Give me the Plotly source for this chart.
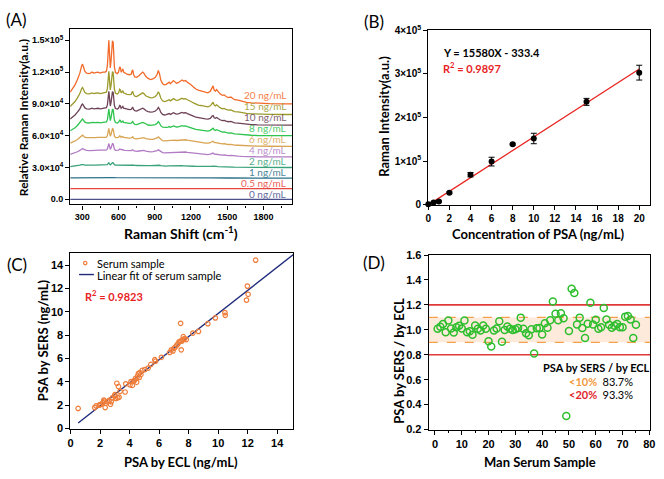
import plotly.graph_objects as go

# ---------------- Panel A data: SERS spectra ----------------
wavenumber = [200, 220, 240, 260, 280, 295, 302, 310, 320, 335, 360, 380, 395, 410, 430, 450, 470, 490,
              500, 508, 514, 520, 526, 532, 538, 544, 550, 556, 560, 566, 575, 590, 600, 610, 616, 622,
              630, 636, 642, 655, 670, 690, 705, 712, 718, 724, 735, 750, 770, 790, 800, 810, 825, 845,
              865, 885, 905, 920, 930, 940, 950, 965, 980, 995, 1010, 1020, 1030, 1045, 1055, 1065, 1080,
              1095, 1110, 1125, 1140, 1155, 1170, 1185, 1200, 1220, 1240, 1260, 1280, 1300, 1320, 1340,
              1360, 1375, 1383, 1392, 1402, 1412, 1422, 1440, 1460, 1475, 1490, 1510, 1530, 1545, 1560,
              1590, 1620, 1660, 1700, 1750, 1850, 1950, 2040]
# 20 ng/mL spectrum, intensity above its baseline (x10^3 a.u.)
profile_20 = [11, 14, 18, 23, 29, 36, 37.5, 35, 31, 29, 28.5, 30, 29, 29.5, 30, 29, 30, 30,
              31, 36, 48, 60, 47, 34, 40, 52, 59.5, 58, 45, 35, 29.5, 28.5, 30, 35, 34, 30,
              31.5, 33, 30, 29, 28, 27.5, 28, 31, 32, 28, 25.5, 25, 26.5, 29, 30, 29, 26, 24,
              23, 23.5, 25, 28, 31.5, 28, 22.5, 19, 18, 18.5, 19.5, 20.5, 19, 21.5, 22, 21, 19.5,
              20, 21.5, 22.5, 21.5, 22, 20.5, 19.5, 18, 16, 14, 13, 12.5, 12, 11, 10.5,
              12, 16, 17, 13, 12, 13.5, 12, 9.5, 8, 8.5, 7, 6, 6.5, 5, 4,
              3.5, 2.5, 1.5, 1, 0.5, 0.2, 0, 0]
spectra_labels = ["20 ng/mL", "15 ng/mL", "10 ng/mL", "8 ng/mL", "6 ng/mL",
                  "4 ng/mL", "2 ng/mL", "1 ng/mL", "0.5 ng/mL", "0 ng/mL"]
baselines_k = [90, 80, 70, 60, 50, 40, 30, 20, 10, 0]
relative_scale = [1.0, 0.68, 0.53, 0.42, 0.28, 0.21, 0.075, 0.015, 0.003, 0.0]
spectra_colors = ["#F26B2A", "#9C9A2C", "#6E4257", "#2EC44F", "#D9A453",
                  "#B27CC4", "#3AA27A", "#2C7187", "#E8453C", "#4B4F8C"]

# ---------------- Panel B data: calibration ----------------
conc_b = [0, 0.5, 1, 2, 4, 6, 8, 10, 15, 20]
intensity_b = [1500, 5200, 7400, 27500, 69000, 99000, 139000, 152000, 236000, 303000]
error_b = [500, 1000, 1500, 2000, 5000, 10000, 2000, 12000, 8000, 17000]
fit_slope_b = 15580
fit_intercept_b = -333.4
fit_x_b = [0, 20]

# ---------------- Panel C data: SERS vs ECL ----------------
ecl_c = [0.52, 1.64, 1.73, 1.95, 2.08, 2.2, 2.26, 2.35, 2.4, 2.53, 2.62, 2.71, 2.76, 2.84, 2.98,
         3.07, 3.14, 3.2, 3.25, 3.29, 3.36, 3.7, 3.74, 4.03, 4.1, 4.19, 4.32, 4.41, 4.48, 4.55,
         4.6, 4.66, 4.7, 4.77, 4.86, 5.04, 5.26, 5.44, 5.71, 5.76, 6.16, 6.72, 6.83, 6.94, 7.01,
         7.1, 7.21, 7.28, 7.35, 7.44, 7.46, 7.5, 7.55, 7.62, 7.64, 7.73, 7.84, 8.29, 8.67, 9.3,
         9.81, 10.46, 10.48, 11.92, 11.98, 12.03, 12.54, 2.0, 2.3, 3.0, 4.25]
sers_c = [1.72, 1.8, 1.94, 2.0, 2.08, 2.22, 2.44, 1.8, 2.16, 2.3, 2.41, 2.08, 2.3, 2.63, 2.77,
          2.58, 3.88, 2.63, 3.6, 2.69, 3.19, 3.13, 3.83, 3.74, 4.02, 3.69, 4.1, 4.3, 3.96, 4.49,
          4.71, 4.38, 4.8, 4.63, 4.99, 5.05, 5.18, 5.49, 5.9, 5.77, 6.1, 6.52, 6.74, 6.65, 6.88,
          6.99, 7.15, 7.26, 7.43, 7.49, 9.01, 6.74, 7.49, 7.62, 7.87, 7.71, 7.62, 8.18, 8.32, 8.98,
          9.48, 9.93, 9.7, 11.0, 12.2, 11.5, 14.42, 2.05, 2.35, 2.9, 4.05]
fit_slope_c = 0.99
fit_intercept_c = -0.04
fit_x_c = [0.52, 15.1]

# ---------------- Panel D data: ratio per sample ----------------
sample_d = list(range(1, 76))
ratio_d = [1.009, 1.025, 1.046, 0.98, 1.074, 1.01, 0.978, 1.02, 1.033, 1.01,
           1.074, 0.98, 0.988, 0.96, 1.035, 1.009, 0.994, 1.035, 1.009, 0.908,
           0.866, 0.994, 1.01, 1.069, 0.905, 0.999, 1.027, 1.009, 0.999, 1.004,
           1.015, 1.098, 1.009, 0.973, 0.957, 1.004, 0.81, 1.012, 1.015, 0.962,
           1.053, 1.017, 1.077, 1.228, 1.129, 1.077, 1.134, 1.093, 0.309, 0.991,
           1.329, 1.296, 1.043, 1.098, 1.015, 0.934, 1.048, 1.217, 1.043, 1.08,
           1.009, 1.02, 1.176, 1.082, 1.04, 1.017, 1.033, 1.046, 1.02, 1.02,
           1.106, 1.111, 1.082, 0.934, 1.04]

W, H = 664, 479
def px(x):
    return x / W
def py(y):
    return 1 - y / H

TITLE_FONT = "Lato"
TICK_FONT = "Liberation Sans"

fig = go.Figure()

# ---- Panel A traces ----
for lab, base, s, col in zip(spectra_labels, baselines_k, relative_scale, spectra_colors):
    yv = [(base + s * p) * 1000 for p in profile_20]
    fig.add_trace(go.Scatter(x=wavenumber, y=yv, mode="lines", line=dict(color=col, width=1.3),
                             xaxis="x", yaxis="y", showlegend=False, hoverinfo="skip"))
    fig.add_annotation(x=2005, y=(base * 1.047 + 4.6) * 1000, xref="x", yref="y", text=lab,
                       showarrow=False, xanchor="right", yanchor="middle",
                       font=dict(family=TITLE_FONT, size=10, color=col), opacity=0.85)

# ---- Panel B traces ----
fig.add_trace(go.Scatter(x=fit_x_b, y=[fit_slope_b * v + fit_intercept_b for v in fit_x_b],
                         mode="lines", line=dict(color="#E8231F", width=1.3),
                         xaxis="x2", yaxis="y2", showlegend=False))
fig.add_trace(go.Scatter(x=conc_b, y=intensity_b, mode="markers",
                         marker=dict(color="black", size=6),
                         error_y=dict(type="data", array=error_b, color="black", thickness=1, width=3),
                         xaxis="x2", yaxis="y2", showlegend=False, cliponaxis=False))

# ---- Panel C traces ----
fig.add_trace(go.Scatter(x=fit_x_c, y=[fit_slope_c * v + fit_intercept_c for v in fit_x_c],
                         mode="lines", line=dict(color="#1F2A7A", width=1.4),
                         xaxis="x3", yaxis="y3", showlegend=False))
fig.add_trace(go.Scatter(x=ecl_c, y=sers_c, mode="markers",
                         marker=dict(symbol="circle-open", color="#EF7D3A", size=4.5, line=dict(width=1.2)),
                         xaxis="x3", yaxis="y3", showlegend=False))

# ---- Panel D traces ----
fig.add_trace(go.Scatter(x=sample_d, y=ratio_d, mode="markers",
                         marker=dict(symbol="circle-open", color="#2DBE2D", size=7, line=dict(width=1.5)),
                         xaxis="x4", yaxis="y4", showlegend=False))

# ---- Shapes for D bands ----
fig.add_shape(type="rect", xref="x4 domain", yref="y4", x0=0, x1=1, y0=0.9, y1=1.1,
              fillcolor="#FDEADB", line=dict(width=0), layer="below")
for yv in [0.9, 1.1]:
    fig.add_shape(type="line", xref="x4 domain", yref="y4", x0=0, x1=1, y0=yv, y1=yv,
                  line=dict(color="#F5A04A", width=1.3, dash="dash"), layer="below")
for yv in [0.8, 1.2]:
    fig.add_shape(type="line", xref="x4 domain", yref="y4", x0=0, x1=1, y0=yv, y1=yv,
                  line=dict(color="#E0393A", width=1.6), layer="below")

# ---- Legend of C (manual) ----
fig.add_shape(type="circle", xref="paper", yref="paper",
              x0=px(81.5), x1=px(85), y0=py(265), y1=py(261.5),
              line=dict(color="#EF7D3A", width=1.2))
fig.add_shape(type="line", xref="paper", yref="paper", x0=px(77), x1=px(92), y0=py(275), y1=py(275),
              line=dict(color="#1F2A7A", width=1.4))
fig.add_annotation(x=px(93), y=py(263.5), xref="paper", yref="paper", text="Serum sample",
                   showarrow=False, xanchor="left", yanchor="middle",
                   font=dict(family=TITLE_FONT, size=11, color="black"))
fig.add_annotation(x=px(93), y=py(275.5), xref="paper", yref="paper", text="Linear fit of serum sample",
                   showarrow=False, xanchor="left", yanchor="middle",
                   font=dict(family=TITLE_FONT, size=11, color="black"))

axis_common = dict(showline=True, mirror=True, linecolor="black", linewidth=1.3,
                   ticks="outside", ticklen=4, tickwidth=1.2, tickcolor="black",
                   showgrid=False, zeroline=False,
                   tickfont=dict(family=TICK_FONT, size=10, color="black", weight="bold"))

def ax(**kw):
    d = dict(axis_common)
    d.update(kw)
    return d

fig.update_layout(
    width=W, height=H, margin=dict(l=0, r=0, t=0, b=0),
    paper_bgcolor="white", plot_bgcolor="white", showlegend=False,
    xaxis=ax(domain=[px(68), px(293)], range=[200, 2040], anchor="y",
             tickmode="linear", tick0=300, dtick=300,
             minor=dict(tickmode="linear", tick0=150, dtick=300, ticks="outside", ticklen=2,
                        tickcolor="black", tickwidth=1),
             tickfont=dict(family=TICK_FONT, size=9, color="black", weight="bold")),
    yaxis=ax(domain=[py(203), py(23)], range=[-4900, 160300], anchor="x",
             tickmode="array", tickvals=[0, 30000, 60000, 90000, 120000, 150000],
             ticktext=["0.0", "3.0×10<sup>4</sup>", "6.0×10<sup>4</sup>", "9.0×10<sup>4</sup>",
                       "1.2×10<sup>5</sup>", "1.5×10<sup>5</sup>"],
             tickfont=dict(family=TICK_FONT, size=9, color="black", weight="bold")),
    xaxis2=ax(domain=[px(430.5), px(655)], range=[0, 21.03], anchor="y2",
              tickmode="linear", tick0=0, dtick=2,
              tickfont=dict(family=TICK_FONT, size=10, color="black", weight="bold")),
    yaxis2=ax(domain=[py(203.3), py(24)], range=[0, 400000], anchor="x2",
              tickmode="array", tickvals=[0, 100000, 200000, 300000, 400000],
              ticktext=["0", "1×10<sup>5</sup>", "2×10<sup>5</sup>", "3×10<sup>5</sup>", "4×10<sup>5</sup>"],
              tickfont=dict(family=TICK_FONT, size=10, color="black", weight="bold")),
    xaxis3=ax(domain=[px(68.3), px(294)], range=[0, 15.1], anchor="y3",
              tickmode="linear", tick0=0, dtick=2,
              tickfont=dict(family=TICK_FONT, size=11, color="black", weight="bold")),
    yaxis3=ax(domain=[py(433.3), py(253.3)], range=[0, 15], anchor="x3",
              tickmode="linear", tick0=0, dtick=2,
              tickfont=dict(family=TICK_FONT, size=11, color="black", weight="bold")),
    xaxis4=ax(domain=[px(431), px(655.3)], range=[-2.3, 80.4], anchor="y4",
              tickmode="linear", tick0=0, dtick=10,
              minor=dict(tickmode="linear", tick0=5, dtick=10, ticks="outside", ticklen=2,
                         tickcolor="black", tickwidth=1),
              tickfont=dict(family=TICK_FONT, size=11, color="black", weight="bold")),
    yaxis4=ax(domain=[py(434.3), py(255)], range=[0.2, 1.6], anchor="x4",
              tickmode="linear", tick0=0.2, dtick=0.2, tickformat=".1f",
              tickfont=dict(family=TICK_FONT, size=11, color="black", weight="bold")),
)

def label(x, y, text, size=12, color="black", angle=0, anchor="center", bold=True, family=TITLE_FONT):
    fig.add_annotation(x=px(x), y=py(y), xref="paper", yref="paper", text=text, showarrow=False,
                       xanchor=anchor, yanchor="middle", textangle=angle,
                       font=dict(family=family, size=size, color=color,
                                 weight="bold" if bold else "normal"))

# Panel labels
label(14, 13, "(A)", size=17, bold=False)
label(376, 15, "(B)", size=17, bold=False)
label(14, 265, "(C)", size=17, bold=False)
label(376, 263, "(D)", size=17, bold=False)

# Axis titles
label(21.5, 114, "Relative Raman Intensity(a.u.)", size=12, angle=-90)
label(180, 232, "Raman Shift (cm<sup>-1</sup>)", size=14)
label(385.5, 112, "Raman Intensity(a.u.)", size=13, angle=-90)
label(542, 233, "Concentration of PSA (ng/mL)", size=13)
label(40, 343, "PSA by SERS (ng/mL)", size=13, angle=-90)
label(180, 468, "PSA by ECL (ng/mL)", size=13)
label(400.5, 364, "PSA by SERS / by ECL", size=13, angle=-90)
label(543.5, 468, "Man Serum Sample", size=13)

# Panel text
label(443.7, 47, "Y = 15580X - 333.4", size=11, anchor="left")
label(443.7, 62, "R<sup>2</sup> = 0.9897", size=11, color="#E8231F", anchor="left")
label(81, 297, "R<sup>2</sup> = 0.9823", size=11, color="#E8231F", anchor="left")
label(601, 371, "PSA by SERS / by ECL", size=11)
label(571, 385, "<span style='color:#F39A3C'>&lt;10%</span>  <span style='font-weight:normal'>83.7%</span>",
      size=11, anchor="left")
label(571, 398, "<span style='color:#E0262B'>&lt;20%</span>  <span style='font-weight:normal'>93.3%</span>",
      size=11, anchor="left")

fig.write_html("out.html", config={"displayModeBar": False},
               post_script="document.body.style.margin='0px';document.body.style.overflow='hidden';")
